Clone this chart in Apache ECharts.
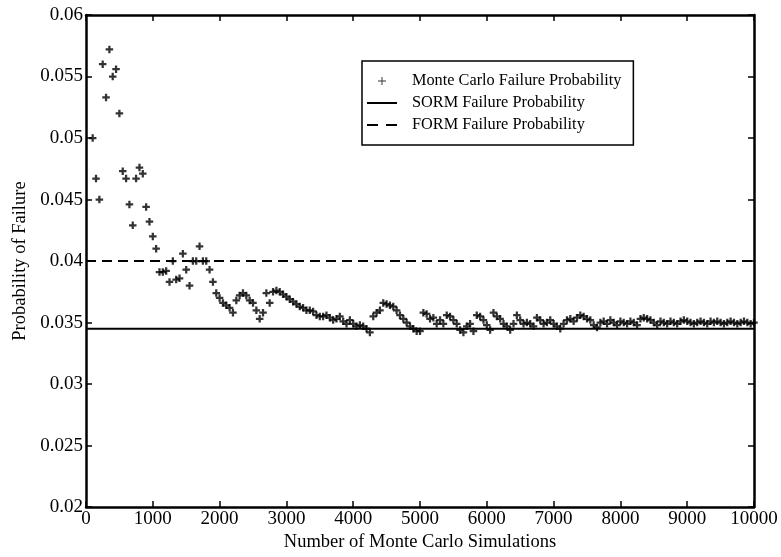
<!DOCTYPE html>
<html>
<head>
<meta charset="utf-8">
<script src="https://cdn.jsdelivr.net/npm/echarts@6/dist/echarts.min.js"></script>
<style>
html,body{margin:0;padding:0;background:#fff;}
#chart{width:781px;height:557px;}
</style>
</head>
<body>
<div id="chart"></div>
<script>
// ---- data ----
const simulations = [
  100,150,200,250,300,350,400,450,500,550,
  600,650,700,750,800,850,900,950,1000,1050,
  1100,1150,1200,1250,1300,1350,1400,1450,1500,1550,
  1600,1650,1700,1750,1800,1850,1900,1950,2000,2050,
  2100,2150,2200,2250,2300,2350,2400,2450,2500,2550,
  2600,2650,2700,2750,2800,2850,2900,2950,3000,3050,
  3100,3150,3200,3250,3300,3350,3400,3450,3500,3550,
  3600,3650,3700,3750,3800,3850,3900,3950,4000,4050,
  4100,4150,4200,4250,4300,4350,4400,4450,4500,4550,
  4600,4650,4700,4750,4800,4850,4900,4950,5000,5050,
  5100,5150,5200,5250,5300,5350,5400,5450,5500,5550,
  5600,5650,5700,5750,5800,5850,5900,5950,6000,6050,
  6100,6150,6200,6250,6300,6350,6400,6450,6500,6550,
  6600,6650,6700,6750,6800,6850,6900,6950,7000,7050,
  7100,7150,7200,7250,7300,7350,7400,7450,7500,7550,
  7600,7650,7700,7750,7800,7850,7900,7950,8000,8050,
  8100,8150,8200,8250,8300,8350,8400,8450,8500,8550,
  8600,8650,8700,8750,8800,8850,8900,8950,9000,9050,
  9100,9150,9200,9250,9300,9350,9400,9450,9500,9550,
  9600,9650,9700,9750,9800,9850,9900,9950,10000
];
const monteCarloProbability = [
  0.0500,0.0467,0.0450,0.0560,0.0533,0.0572,0.0550,0.0556,0.0520,0.0473,
  0.0467,0.0446,0.0429,0.0467,0.0476,0.0471,0.0444,0.0432,0.0420,0.0410,
  0.0391,0.0391,0.0392,0.0383,0.0400,0.0385,0.0386,0.0406,0.0393,0.0380,
  0.0400,0.0400,0.0412,0.0400,0.0400,0.0393,0.0383,0.0374,0.0370,0.0366,
  0.0364,0.0362,0.0358,0.0368,0.0372,0.0374,0.0372,0.0368,0.0366,0.0360,
  0.0353,0.0358,0.0374,0.0366,0.0375,0.0376,0.0375,0.0373,0.0371,0.0369,
  0.0367,0.0365,0.0363,0.0362,0.0360,0.0360,0.0359,0.0356,0.0355,0.0355,
  0.0356,0.0354,0.0352,0.0353,0.0355,0.0351,0.0349,0.0352,0.0349,0.0347,
  0.0348,0.0347,0.0345,0.0342,0.0355,0.0358,0.0360,0.0366,0.0365,0.0364,
  0.0363,0.0360,0.0356,0.0353,0.0350,0.0347,0.0345,0.0343,0.0343,0.0358,
  0.0357,0.0353,0.0354,0.0349,0.0352,0.0349,0.0356,0.0355,0.0352,0.0349,
  0.0344,0.0342,0.0347,0.0349,0.0343,0.0356,0.0355,0.0352,0.0348,0.0344,
  0.0358,0.0355,0.0353,0.0349,0.0347,0.0344,0.0349,0.0356,0.0352,0.0349,
  0.0350,0.0349,0.0347,0.0354,0.0352,0.0349,0.0350,0.0352,0.0349,0.0347,
  0.0345,0.0349,0.0352,0.0353,0.0351,0.0354,0.0356,0.0355,0.0353,0.0352,
  0.0348,0.0346,0.0350,0.0351,0.0349,0.0352,0.0350,0.0348,0.0351,0.0350,
  0.0349,0.0351,0.0350,0.0348,0.0353,0.0354,0.0353,0.0352,0.0350,0.0348,
  0.0351,0.0350,0.0349,0.0351,0.0350,0.0349,0.0351,0.0352,0.0351,0.0350,
  0.0349,0.0350,0.0351,0.0350,0.0349,0.0351,0.0350,0.0351,0.0350,0.0349,
  0.0350,0.0351,0.0350,0.0349,0.0350,0.0351,0.0350,0.0349,0.0350
];
const sormProbability = 0.0345;
const formProbability = 0.0400;
const xRange = [0, 10000];
const yRange = [0.02, 0.06];
const seriesNames = ['Monte Carlo Failure Probability', 'SORM Failure Probability', 'FORM Failure Probability'];
const xTitle = 'Number of Monte Carlo Simulations';
const yTitle = 'Probability of Failure';

// ---- chart ----
const FONT = '"Liberation Serif", "DejaVu Serif", serif';
const PLUS = 'path://M3.5 0H6.5V3.5H10V6.5H6.5V10H3.5V6.5H0V3.5H3.5Z';
const PLUS_THIN = 'path://M4.4 0H5.6V4.4H10V5.6H5.6V10H4.4V5.6H0V4.4H4.4Z';
const SOLID_ICON = 'path://M0 0H30V2H0Z';
const DASH_ICON = 'path://M0 0H11V2H0Z M19 0H30V2H19Z';

const chart = echarts.init(document.getElementById('chart'), null, {renderer: 'canvas'});

const lineAxis = {color: '#000', width: 2.5};
const tick = {show: true, inside: true, length: 6, lineStyle: {color: '#000', width: 1.5}};
const labelStyle = {color: '#000', fontFamily: FONT, fontSize: 19};
const titleStyle = {color: '#000', fontFamily: FONT, fontSize: 18.5};

const xBase = {type: 'value', min: xRange[0], max: xRange[1], interval: 1000,
  axisLine: {show: true, onZero: false, lineStyle: lineAxis}, axisTick: tick, splitLine: {show: false}};
const yBase = {type: 'value', min: yRange[0], max: yRange[1], interval: 0.005,
  axisLine: {show: true, onZero: false, lineStyle: lineAxis}, axisTick: tick, splitLine: {show: false}};

const mcData = simulations.map((n, i) => [n, monteCarloProbability[i]]);

chart.setOption({
  animation: false,
  backgroundColor: '#fff',
  grid: {left: 86, right: 27, top: 15, bottom: 47, containLabel: false},
  xAxis: [
    Object.assign({}, xBase, {position: 'bottom',
      axisLabel: Object.assign({margin: 2, formatter: v => String(v)}, labelStyle),
      name: xTitle, nameLocation: 'middle', nameGap: 19, nameTextStyle: titleStyle}),
    Object.assign({}, xBase, {position: 'top', axisLabel: {show: false}})
  ],
  yAxis: [
    Object.assign({}, yBase, {position: 'left',
      axisLabel: Object.assign({margin: 3, formatter: v => String(+v.toFixed(3))}, labelStyle),
      name: yTitle, nameLocation: 'middle', nameGap: 54, nameTextStyle: titleStyle}),
    Object.assign({}, yBase, {position: 'right', axisLabel: {show: false}})
  ],
  legend: {
    orient: 'vertical', left: 362, top: 61,
    backgroundColor: '#fff', borderColor: '#000', borderWidth: 1.5, borderRadius: 0,
    padding: [11, 12, 11, 5], itemGap: 4, itemWidth: 30, itemHeight: 8,
    textStyle: {color: '#000', fontFamily: FONT, fontSize: 16.3, lineHeight: 18, padding: [0, 0, 0, 10]},
    data: [
      {name: seriesNames[0], icon: PLUS_THIN},
      {name: seriesNames[1], icon: SOLID_ICON},
      {name: seriesNames[2], icon: DASH_ICON}
    ]
  },
  series: [
    {type: 'scatter', name: seriesNames[0], data: mcData, symbol: PLUS, symbolSize: 7.5,
      itemStyle: {color: '#000'}, z: 3},
    {type: 'line', name: seriesNames[1], data: [[xRange[0], sormProbability], [xRange[1], sormProbability]],
      symbol: 'none', lineStyle: {color: '#000', width: 2, type: 'solid'}, itemStyle: {color: '#000'}, z: 2},
    {type: 'line', name: seriesNames[2], data: [[xRange[0], formProbability], [xRange[1], formProbability]],
      symbol: 'none', lineStyle: {color: '#000', width: 2, type: [10, 6]}, itemStyle: {color: '#000'}, z: 2}
  ]
});
</script>
</body>
</html>
